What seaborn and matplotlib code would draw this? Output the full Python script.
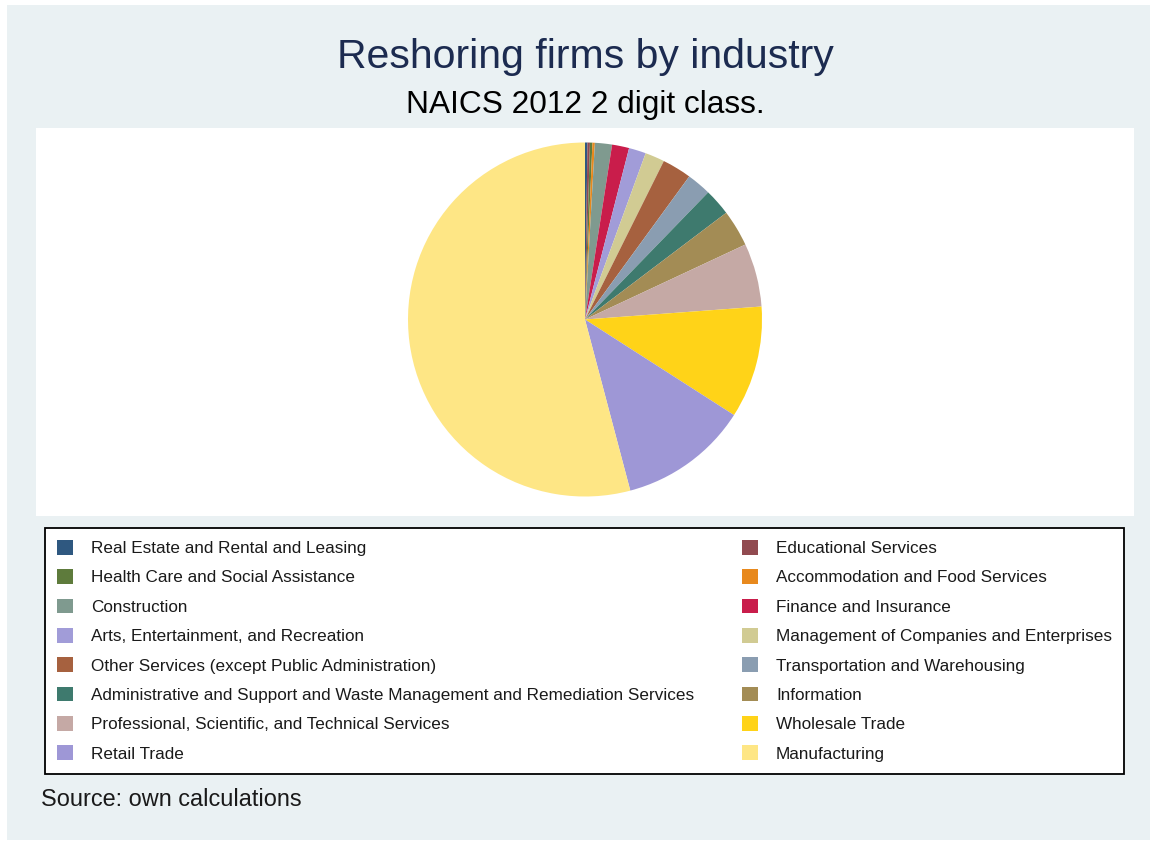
import matplotlib
matplotlib.use("Agg")
import matplotlib.pyplot as plt
from matplotlib.patches import Patch, Rectangle
import seaborn as sns

# Firms per NAICS 2-digit sector, in pie order (clockwise from 12 o'clock)
industries = [
    "Real Estate and Rental and Leasing",
    "Educational Services",
    "Health Care and Social Assistance",
    "Accommodation and Food Services",
    "Construction",
    "Finance and Insurance",
    "Arts, Entertainment, and Recreation",
    "Management of Companies and Enterprises",
    "Other Services (except Public Administration)",
    "Transportation and Warehousing",
    "Administrative and Support and Waste Management and Remediation Services",
    "Information",
    "Professional, Scientific, and Technical Services",
    "Wholesale Trade",
    "Retail Trade",
    "Manufacturing",
]
firms = [1, 1, 1, 1, 7, 7, 7, 8, 12, 10, 11, 15, 26, 46, 53, 243]
slice_colors = [
    "#2f5880", "#914a50", "#5e7b3c", "#e8891d", "#7f9a8f", "#c91d4b",
    "#a19cd8", "#d1cb93", "#a6613f", "#8a9db1", "#3e7a6e", "#a38c55",
    "#c5a9a5", "#ffd318", "#9e97d6", "#fee685",
]

sns.set_theme(style="white")
plt.rcParams["font.family"] = ["Liberation Sans", "DejaVu Sans"]

palette = sns.color_palette(slice_colors)

W, H = 1157, 841
fig = plt.figure(figsize=(W / 100, H / 100), dpi=100, facecolor="white")

# light panel behind everything
fig.patches.append(Rectangle((7 / W, 1 / H), (1150 - 7) / W, (836 - 1) / H,
                             transform=fig.transFigure, facecolor="#eaf1f3",
                             edgecolor="none", zorder=-10))

# plot region
left, top, right, bottom = 36, 128, 1134, 516
ax = fig.add_axes([left / W, 1 - bottom / H, (right - left) / W, (bottom - top) / H])
ax.set_zorder(1)
R = 177.0
cx, cy = 585.0, 319.5
ax.pie(firms, colors=palette, startangle=90, counterclock=False, radius=1.0,
       wedgeprops=dict(linewidth=0, edgecolor="none"))
ax.set_frame_on(True)
ax.patch.set_facecolor("white")
ax.patch.set_visible(True)
ax.set_aspect("auto")
ax.set_xlim((left - cx) / R, (right - cx) / R)
ax.set_ylim(-(bottom - cy) / R, (cy - top) / R)
ax.set_xticks([])
ax.set_yticks([])
for s in ax.spines.values():
    s.set_visible(False)

fig.text(585 / W, 1 - 57 / H, "Reshoring firms by industry", ha="center", va="center",
         fontsize=29.5, color="#1c2b50", zorder=5)
fig.text(585 / W, 1 - 105 / H, "NAICS 2012 2 digit class.", ha="center", va="center",
         fontsize=22.8, color="black", zorder=5)

# legend laid out row by row in two columns
handles = [Patch(facecolor=c, edgecolor="none") for c in palette]
order = list(range(0, len(industries), 2)) + list(range(1, len(industries), 2))
leg = fig.legend([handles[i] for i in order], [industries[i] for i in order],
                 ncol=2, loc="upper left", mode="expand",
                 bbox_to_anchor=(45 / W, 1 - 528 / H, (1124 - 45) / W, 0.0),
                 borderaxespad=0, fontsize=12.3, frameon=True, fancybox=False,
                 handlelength=0.94, handleheight=0.94, handletextpad=1.05,
                 labelspacing=0.77, borderpad=0.7)
leg.set_zorder(5)
fr = leg.get_frame()
fr.set_edgecolor("black")
fr.set_linewidth(1.3)
fr.set_facecolor("white")
fr.set_alpha(1)
for t in leg.get_texts():
    t.set_color("#1a1a1a")

fig.text(41 / W, 1 - 800 / H, "Source: own calculations", ha="left", va="center",
         fontsize=16.9, color="#1a1a1a", zorder=5)

fig.savefig("out.png", dpi=100, facecolor="white")
